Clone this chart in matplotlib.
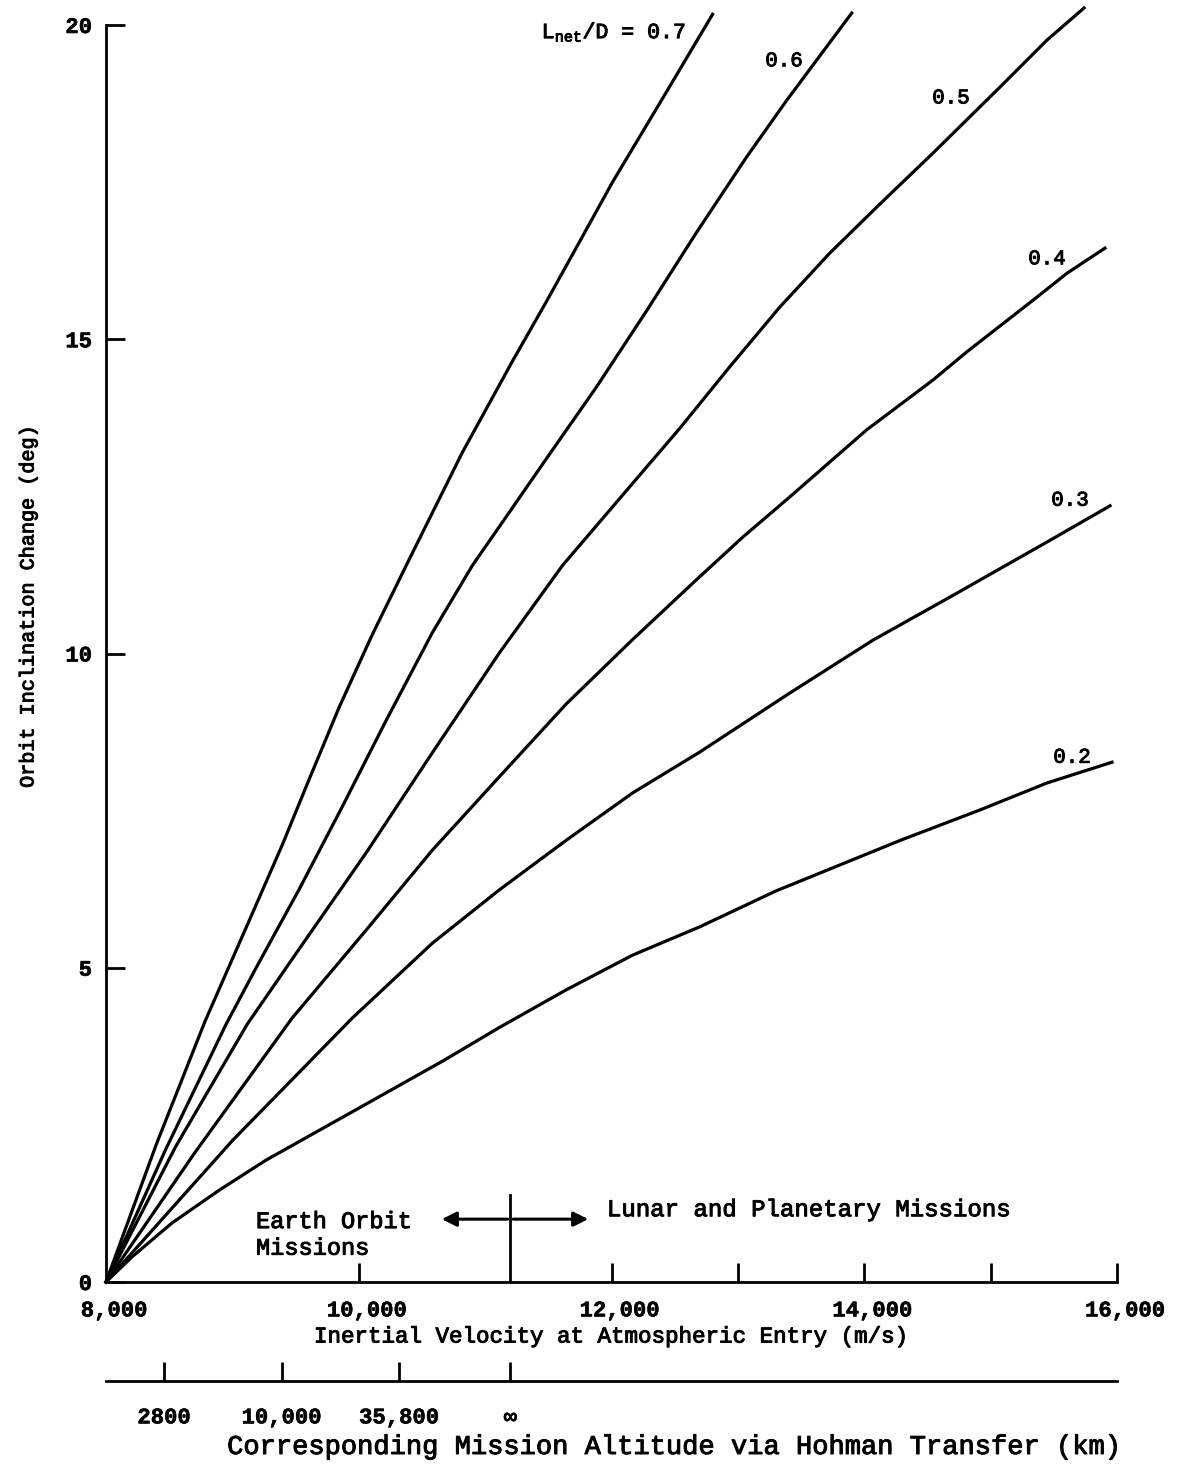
import matplotlib.pyplot as plt
import matplotlib.patheffects as pe

# orbit inclination change (deg) vs entry velocity (m/s), one list pair per L/D value
vel_07 = [8000, 8400, 8784, 9133, 9394, 9608, 9846, 10107, 10400, 10820,
          11216, 11485, 11747, 12008, 12380, 12800]
inc_07 = [0, 2.2, 4.15, 5.75, 6.95, 8.0, 9.15, 10.3, 11.5, 13.2,
          14.65, 15.6, 16.55, 17.5, 18.75, 20.17]

vel_06 = [8000, 8470, 8950, 9188, 9529, 9869, 10218, 10582, 10899, 11089,
          11485, 11881, 12277, 12673, 13069, 13386, 13901]
inc_06 = [0, 2.1, 4.1, 5.0, 6.25, 7.56, 8.94, 10.33, 11.40, 11.95,
          13.1, 14.24, 15.45, 16.7, 17.9, 18.8, 20.19]

vel_05 = [8000, 8550, 9117, 9529, 10059, 10582, 11113, 11612, 12143, 12539,
          12935, 13331, 13727, 14123, 14543, 15073, 15446, 15739]
inc_05 = [0, 2.15, 4.1, 5.3, 6.83, 8.42, 10.01, 11.40, 12.65, 13.58,
          14.56, 15.51, 16.37, 17.15, 17.96, 19.01, 19.76, 20.27]

vel_04 = [8000, 8700, 9473, 10059, 10582, 11113, 11643, 12166, 12697, 13038,
          13410, 14020, 14543, 14812, 15335, 15604, 15905]
inc_04 = [0, 2.05, 4.2, 5.60, 6.87, 8.04, 9.20, 10.22, 11.22, 11.85,
          12.49, 13.56, 14.35, 14.80, 15.62, 16.05, 16.45]

vel_03 = [8000, 9000, 9949, 10582, 11113, 11643, 12166, 12697, 13410,
          14067, 14733, 15469, 15945]
inc_03 = [0, 2.25, 4.20, 5.39, 6.24, 7.03, 7.78, 8.43, 9.37,
          10.21, 10.96, 11.80, 12.35]

vel_02 = [8000, 8206, 8523, 8895, 9267, 10004, 10677, 11113, 11643, 12166, 12697, 13299, 14289,
          14915, 15446, 15960]
inc_02 = [0, 0.40, 0.94, 1.46, 1.94, 2.77, 3.53, 4.05, 4.65, 5.20, 5.65, 6.22, 7.03,
          7.51, 7.94, 8.27]

curves = [(vel_07, inc_07), (vel_06, inc_06), (vel_05, inc_05),
          (vel_04, inc_04), (vel_03, inc_03), (vel_02, inc_02)]

curve_labels = [r'$\mathregular{L_{net}/D}$ = 0.7', '0.6', '0.5', '0.4', '0.3', '0.2']
label_pos = [(12590, 19.79), (13365, 19.43), (14686, 18.84), (15446, 16.28), (15628, 12.44), (15644, 8.35)]

x_ticks = [10000, 12000, 13000, 14000, 15000, 16000]
x_labelpos = [8000, 10000, 12000, 14000, 16000]
x_ticklabels = ['8,000', '10,000', '12,000', '14,000', '16,000']
y_ticks = [0, 5, 10, 15, 20]

escape_vel = 11200

# altitude scale (Hohman transfer), placed at equivalent entry velocity
alt_vel = [8460, 9390, 10320, 11200]
alt_labels = ['2800', '10,000', '35,800', '∞']

W, H = 1179, 1465
fig = plt.figure(figsize=(W / 100, H / 100), dpi=100)
plt.rcParams['font.family'] = ['Liberation Mono', 'DejaVu Sans']

# typewriter text in the scan is a bit heavier than Courier
thick = [pe.withStroke(linewidth=0.7, foreground='black')]
thin = [pe.withStroke(linewidth=0.4, foreground='black')]

left, right = 106 / W, 1117 / W
bot, top = 1 - 1282 / H, 1 - 25 / H
ax = fig.add_axes([left, bot, right - left, top - bot])

for v, i in curves:
    ax.plot(v, i, color='black', lw=2.3, clip_on=False, solid_joinstyle='round')

for txt, (px, py) in zip(curve_labels, label_pos):
    if txt.startswith('$'):
        ax.text(px, py, txt, ha='right', va='baseline', fontsize=15.5, path_effects=thick)
    else:
        ax.text(px, py, txt, ha='center', va='center', fontsize=15, path_effects=thick)

ax.set_xlim(8000, 16000)
ax.set_ylim(0, 20)
for s in ['top', 'right']:
    ax.spines[s].set_visible(False)
for s in ['left', 'bottom']:
    ax.spines[s].set_linewidth(2.0)

ax.set_xticks(x_ticks)
ax.set_xticklabels([])
ax.tick_params(axis='x', direction='in', length=14, width=2)
for xv, lab in zip(x_labelpos, x_ticklabels):
    ax.text(xv + 65, -0.46, lab, ha='center', va='center', fontsize=16, fontweight='bold',
            path_effects=thin)

ax.set_yticks(y_ticks)
ax.set_yticklabels([str(t) for t in y_ticks], fontsize=16, fontweight='bold')
ax.tick_params(axis='y', direction='in', length=14, width=2, pad=10)
for t in ax.get_yticklabels():
    t.set_path_effects(thin)

# escape velocity marker and mission regions
ax.plot([escape_vel, escape_vel], [0, 1.38], color='black', lw=2)
for tip in [10635, 11838]:
    ax.annotate('', xy=(tip, 1.0), xytext=(escape_vel, 1.0),
                arrowprops=dict(arrowstyle='-|>', color='black', lw=2.2, mutation_scale=22))
ax.text(9187, 0.75, 'Earth Orbit\nMissions', ha='left', va='center', fontsize=17,
        linespacing=1.2, path_effects=thick)
ax.text(11964, 1.15, 'Lunar and Planetary Missions', ha='left', va='center', fontsize=17.3,
        path_effects=thick)

fig.text(611 / W, 1 - 1337 / H, 'Inertial Velocity at Atmospheric Entry (m/s)',
         ha='center', va='center', fontsize=16.2, path_effects=thick)
fig.text(28 / W, 1 - 606 / H, 'Orbit Inclination Change (deg)',
         ha='center', va='center', rotation=90, fontsize=14.5, path_effects=thick)

# second scale: mission altitude
ax2 = fig.add_axes([left, 1 - 1381 / H, right - left, 0.001])
ax2.set_xlim(8000, 16000)
ax2.set_ylim(0, 1)
for s in ['top', 'right', 'left']:
    ax2.spines[s].set_visible(False)
ax2.spines['bottom'].set_linewidth(2.0)
ax2.set_yticks([])
ax2.set_xticks(alt_vel)
ax2.set_xticklabels(alt_labels, fontsize=16, fontweight='bold')
ax2.tick_params(axis='x', direction='in', length=14, width=2, pad=19)
for t in ax2.get_xticklabels():
    t.set_path_effects(thin)
ax2.patch.set_visible(False)

fig.text(674 / W, 1 - 1447 / H, 'Corresponding Mission Altitude via Hohman Transfer (km)',
         ha='center', va='center', fontsize=19.5, path_effects=thick)

fig.savefig('out.png', dpi=100)
